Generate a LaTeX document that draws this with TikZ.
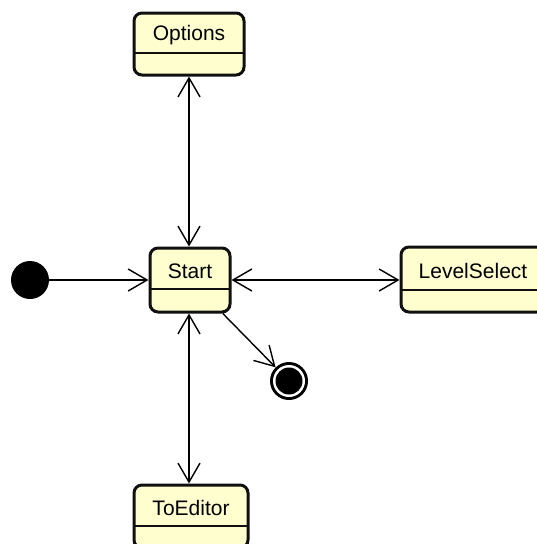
\documentclass[tikz,border=0pt]{standalone}
\usepackage{fontspec}
\setmainfont{Liberation Sans}
\usetikzlibrary{arrows.meta}
\definecolor{statefill}{HTML}{FEFECE}
\definecolor{stateline}{HTML}{101010}
\tikzset{
  statebox/.style={draw=stateline, fill=statefill, line width=3pt,
    rounded corners=8pt, inner sep=0pt},
  divider/.style={draw=stateline, line width=1.3pt},
  label/.style={font=\fontsize{21}{25}\selectfont, inner sep=0pt},
  flow/.style={draw=black, line width=1.4pt,
    -{Straight Barb[length=19pt,width=22pt,line width=1.4pt]}},
  biflow/.style={draw=black, line width=1.4pt,
    {Straight Barb[length=19pt,width=22pt,line width=1.4pt]}-{Straight Barb[length=19pt,width=22pt,line width=1.4pt]}},
}
\begin{document}
\begin{tikzpicture}[x=1pt,y=-1pt]
  \useasboundingbox (0,0) rectangle (537,544);
  \clip (0,0) rectangle (537,544);

  % states
  \node[statebox, minimum width=110pt, minimum height=62pt] (opt) at (189,44) {};
  \draw[divider] (134,53) -- (244,53);
  \node[label] at (189,35) {Options};

  \node[statebox, minimum width=80pt, minimum height=64pt] (start) at (190,280) {};
  \draw[divider] (150,289) -- (230,289);
  \node[label] at (190,271) {Start};

  \node[statebox, minimum width=144pt, minimum height=65pt] (lvl) at (473,279.5) {};
  \draw[divider] (401,290) -- (545,290);
  \node[label] at (473,271) {LevelSelect};

  \node[statebox, minimum width=114pt, minimum height=63pt] (toed) at (191,516.5) {};
  \draw[divider] (134,526) -- (248,526);
  \node[label] at (191,508) {ToEditor};

  % pseudo states
  \node[circle, fill=black, minimum size=38pt, inner sep=0pt] (init) at (30,280) {};
  \node[circle, fill=black, minimum size=38pt, inner sep=0pt] (final) at (289,381) {};
  \fill[white] (final.center) circle (16pt);
  \fill[black] (final.center) circle (13.5pt);

  % transitions
  \draw[biflow] (opt.south -| 189,0) -- (start.north -| 189,0);
  \draw[flow] (init) -- (start.west |- init);
  \draw[biflow] (start.east) -- (lvl.west |- start.east);
  \draw[biflow] (start.south -| 189,0) -- (toed.north -| 189,0);
  \draw[flow] (start) -- (final);
\end{tikzpicture}
\end{document}
